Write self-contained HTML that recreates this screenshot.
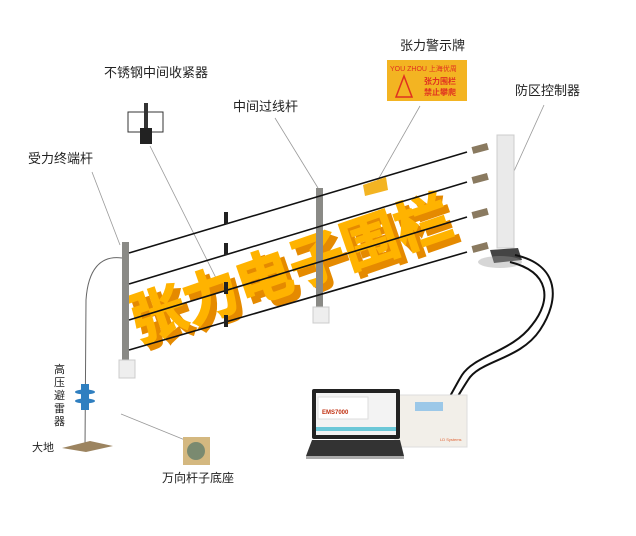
<!DOCTYPE html>
<html><head><meta charset="utf-8"><style>
body{margin:0;background:#fff;width:636px;height:531px;overflow:hidden;font-family:"Liberation Sans","Noto Sans CJK SC",sans-serif}
</style></head><body>
<svg width="636" height="531" viewBox="0 0 636 531" xmlns="http://www.w3.org/2000/svg" style="font-family:'Liberation Sans','Noto Sans CJK SC',sans-serif">
<!-- labels -->
<g font-size="13" fill="#222">
<text x="104" y="77">不锈钢中间收紧器</text>
<text x="400" y="50">张力警示牌</text>
<text x="233" y="111">中间过线杆</text>
<text x="515" y="95">防区控制器</text>
<text x="28" y="163">受力终端杆</text>
<text x="162" y="482" font-size="12">万向杆子底座</text>
<text x="32" y="451" font-size="11">大地</text>
</g>
<g font-size="11" fill="#222"><text x="54" y="373">高</text><text x="54" y="386">压</text><text x="54" y="399">避</text><text x="54" y="412">雷</text><text x="54" y="425">器</text></g>
<!-- leader lines -->
<g stroke="#999" stroke-width="0.8">
<line x1="150" y1="146" x2="222" y2="290"/>
<line x1="275" y1="118" x2="318" y2="188"/>
<line x1="420" y1="106" x2="375" y2="185"/>
<line x1="544" y1="105" x2="510" y2="180"/>
<line x1="92" y1="172" x2="120" y2="245"/>
<line x1="121" y1="414" x2="185" y2="440"/>
</g>
<!-- sign -->
<rect x="387" y="60" width="80" height="41" fill="#f3b422"/>
<text x="390" y="71" font-size="7" fill="#e03020">YOU ZHOU  上海优周</text>
<text x="424" y="84" font-size="8" fill="#e03020" font-weight="bold">张力围栏</text>
<text x="424" y="95" font-size="8" fill="#e03020" font-weight="bold">禁止攀爬</text>
<polygon points="404,76 396,97 412,97" fill="none" stroke="#e03020" stroke-width="1.5"/>
<!-- tensioner icon -->
<rect x="128" y="112" width="35" height="20" fill="none" stroke="#333" stroke-width="1"/>
<rect x="144" y="103" width="4" height="30" fill="#333"/>
<rect x="140" y="128" width="12" height="16" fill="#222"/>
<!-- big 3D text -->
<g transform="translate(138,342) rotate(-19)" font-size="56" font-weight="bold">
<text x="4" y="7" fill="#e58a00" stroke="#e58a00" stroke-width="2">张力电子围栏</text>
<text x="0" y="0" fill="#ffb300" stroke="#ffb300" stroke-width="1.5">张力电子围栏</text>
</g>
<!-- posts -->
<rect x="122" y="242" width="7" height="120" fill="#8a8a86"/>
<rect x="119" y="360" width="16" height="18" fill="#eee" stroke="#ccc"/>
<rect x="316" y="188" width="7" height="120" fill="#8a8a86"/>
<rect x="313" y="307" width="16" height="16" fill="#eee" stroke="#ccc"/>
<rect x="497" y="135" width="17" height="113" fill="#eaeaea" stroke="#ccc"/>
<polygon points="490,250 518,248 522,260 494,263" fill="#444"/>
<ellipse cx="500" cy="262" rx="22" ry="6" fill="#999" opacity="0.4"/>
<!-- wires -->
<g stroke="#111" stroke-width="1.6">
<line x1="129" y1="253" x2="467" y2="152"/>
<line x1="129" y1="284" x2="467" y2="182"/>
<line x1="129" y1="320" x2="467" y2="217"/>
<line x1="129" y1="350" x2="467" y2="252"/>
</g>
<g fill="#8a7a60"><rect x="472" y="145" width="16" height="7" transform="rotate(-15 480 148)"/><rect x="472" y="175" width="16" height="7" transform="rotate(-15 480 178)"/><rect x="472" y="210" width="16" height="7" transform="rotate(-15 480 213)"/><rect x="472" y="244" width="16" height="7" transform="rotate(-15 480 247)"/></g>
<!-- small clamps -->
<g fill="#222"><rect x="224" y="212" width="4" height="12"/><rect x="224" y="243" width="4" height="12"/><rect x="224" y="282" width="4" height="12"/><rect x="224" y="315" width="4" height="12"/></g>
<!-- mini sign -->
<polygon points="363,185 386,177 388,190 365,196" fill="#f3b422"/>
<!-- arrester wire -->
<path d="M122,258 C100,255 88,270 86,300 L85,448" stroke="#666" stroke-width="1" fill="none"/>
<rect x="81" y="384" width="8" height="26" fill="#2f7fc0"/>
<ellipse cx="85" cy="392" rx="10" ry="2.5" fill="#2f7fc0"/><ellipse cx="85" cy="401" rx="10" ry="2.5" fill="#2f7fc0"/>
<polygon points="62,448 90,441 113,446 86,452" fill="#9c8460"/>
<!-- base plate -->
<rect x="183" y="437" width="27" height="28" fill="#d4b880"/>
<circle cx="196" cy="451" r="9" fill="#7a8a70"/>
<!-- cables -->
<path d="M515,255 C560,265 560,300 540,330 C520,360 480,360 468,380 C455,400 445,420 432,428" stroke="#111" stroke-width="2" fill="none"/>
<path d="M510,262 C550,272 552,300 532,325 C512,352 475,355 462,375 C450,395 440,415 432,436" stroke="#111" stroke-width="2" fill="none"/>
<!-- alarm box -->
<rect x="395" y="395" width="72" height="52" fill="#f2efe9" stroke="#ddd"/>
<rect x="415" y="402" width="28" height="9" fill="#9cc8e8"/>
<text x="440" y="441" font-size="4" fill="#e06030">LD Systems</text>
<!-- laptop -->
<rect x="312" y="389" width="88" height="50" fill="#222" rx="2"/>
<rect x="316" y="393" width="80" height="42" fill="#f3f3f3"/>
<rect x="318" y="397" width="50" height="22" fill="#fff" stroke="#ddd"/>
<text x="322" y="414" font-size="6" fill="#c03010" font-weight="bold">EMS7000</text>
<rect x="316" y="427" width="80" height="4" fill="#6cc8d8"/>
<polygon points="312,440 400,440 404,456 306,456" fill="#333"/>
<rect x="306" y="456" width="98" height="3" fill="#aaa"/>
</svg>
</body></html>
